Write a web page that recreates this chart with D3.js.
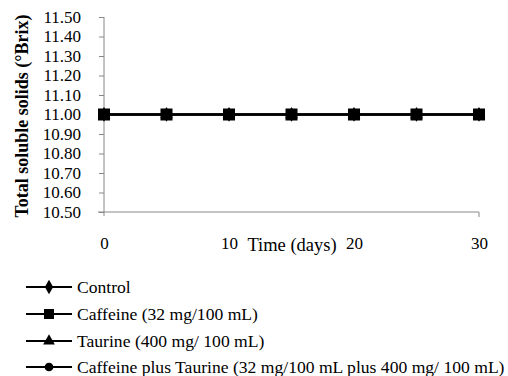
<!DOCTYPE html>
<html>
<head>
<meta charset="utf-8">
<script src="https://cdn.jsdelivr.net/npm/d3@7"></script>
<style>
  body { margin: 0; background: #fff; }
  text { font-family: "Liberation Serif", "Times New Roman", serif; fill: #000; }
</style>
</head>
<body>
<svg width="508" height="376"></svg>
<script>
// data
var days = [0, 5, 10, 15, 20, 25, 30];
var control = [11.00, 11.00, 11.00, 11.00, 11.00, 11.00, 11.00];
var caffeine = [11.00, 11.00, 11.00, 11.00, 11.00, 11.00, 11.00];
var taurine = [11.00, 11.00, 11.00, 11.00, 11.00, 11.00, 11.00];
var caffTaurine = [11.00, 11.00, 11.00, 11.00, 11.00, 11.00, 11.00];
var seriesNames = ["Control", "Caffeine (32 mg/100 mL)", "Taurine (400 mg/ 100 mL)",
  "Caffeine plus Taurine (32 mg/100 mL plus 400 mg/ 100 mL)"];
var yTicks = [10.5, 10.6, 10.7, 10.8, 10.9, 11.0, 11.1, 11.2, 11.3, 11.4, 11.5];
var xTicks = [0, 10, 20, 30];

var series = [
  {name: seriesNames[0], values: control, shape: d3.symbolDiamond},
  {name: seriesNames[1], values: caffeine, shape: d3.symbolSquare},
  {name: seriesNames[2], values: taurine, shape: d3.symbolTriangle},
  {name: seriesNames[3], values: caffTaurine, shape: d3.symbolCircle}
];
var markerSize = {};
markerSize[seriesNames[0]] = 60;
markerSize[seriesNames[1]] = 144;
markerSize[seriesNames[2]] = 70;
markerSize[seriesNames[3]] = 80;

var svg = d3.select("svg");
var x = d3.scaleLinear().domain([0, 30]).range([104, 479]);
var y = d3.scaleLinear().domain([10.5, 11.5]).range([212, 17]);
var axisColor = "#888";

// y axis
var yAxis = svg.append("g")
  .attr("transform", "translate(104,0)")
  .call(d3.axisLeft(y).tickValues(yTicks).tickFormat(d3.format(".2f")).tickSize(5).tickPadding(18));
yAxis.select(".domain").attr("stroke", axisColor).attr("d", "M0,17V216");
yAxis.selectAll(".tick line").attr("stroke", axisColor);
yAxis.selectAll(".tick text").style("font-size", "17px").attr("font-family", null);

// x axis
var xAxis = svg.append("g")
  .attr("transform", "translate(0,212)")
  .call(d3.axisBottom(x).tickValues(xTicks).tickSize(0).tickPadding(25));
xAxis.select(".domain").attr("stroke", axisColor).attr("d", "M98,0H479V5");
xAxis.selectAll(".tick text").style("font-size", "17px").attr("font-family", null);

svg.append("text")
  .attr("x", 292).attr("y", 251)
  .attr("text-anchor", "middle")
  .style("font-size", "18.5px")
  .text("Time (days)");

svg.append("text")
  .attr("transform", "translate(28,116) rotate(-90)")
  .attr("text-anchor", "middle")
  .style("font-size", "18px")
  .style("font-weight", "bold")
  .text("Total soluble solids (\u00B0Brix)");

// series: squares drawn last so they sit on top, as in the picture
var order = [0, 2, 3, 1];
var line = d3.line().x(function(d, i) { return x(days[i]); }).y(function(d) { return y(d); });
order.forEach(function(k) {
  var s = series[k];
  var g = svg.append("g");
  g.append("path").attr("d", line(s.values))
    .attr("fill", "none").attr("stroke", "#000").attr("stroke-width", 2);
  g.selectAll("path.m").data(s.values).enter().append("path")
    .attr("class", "m")
    .attr("transform", function(d, i) { return "translate(" + x(days[i]) + "," + y(d) + ")"; })
    .attr("d", d3.symbol().type(s.shape).size(markerSize[s.name]));
});

// legend
var rowY = [287, 314, 341, 367];
var leg = svg.append("g");
series.forEach(function(s, i) {
  var g = leg.append("g").attr("transform", "translate(0," + rowY[i] + ")");
  g.append("line").attr("x1", 26).attr("x2", 72).attr("y1", 0).attr("y2", 0)
    .attr("stroke", "#000").attr("stroke-width", 2);
  g.append("path").attr("transform", "translate(49,0)")
    .attr("d", d3.symbol().type(s.shape).size(i === 1 ? 100 : 60));
  g.append("text").attr("x", 77).attr("y", 6)
    .style("font-size", "17.6px")
    .text(s.name);
});
</script>
</body>
</html>
